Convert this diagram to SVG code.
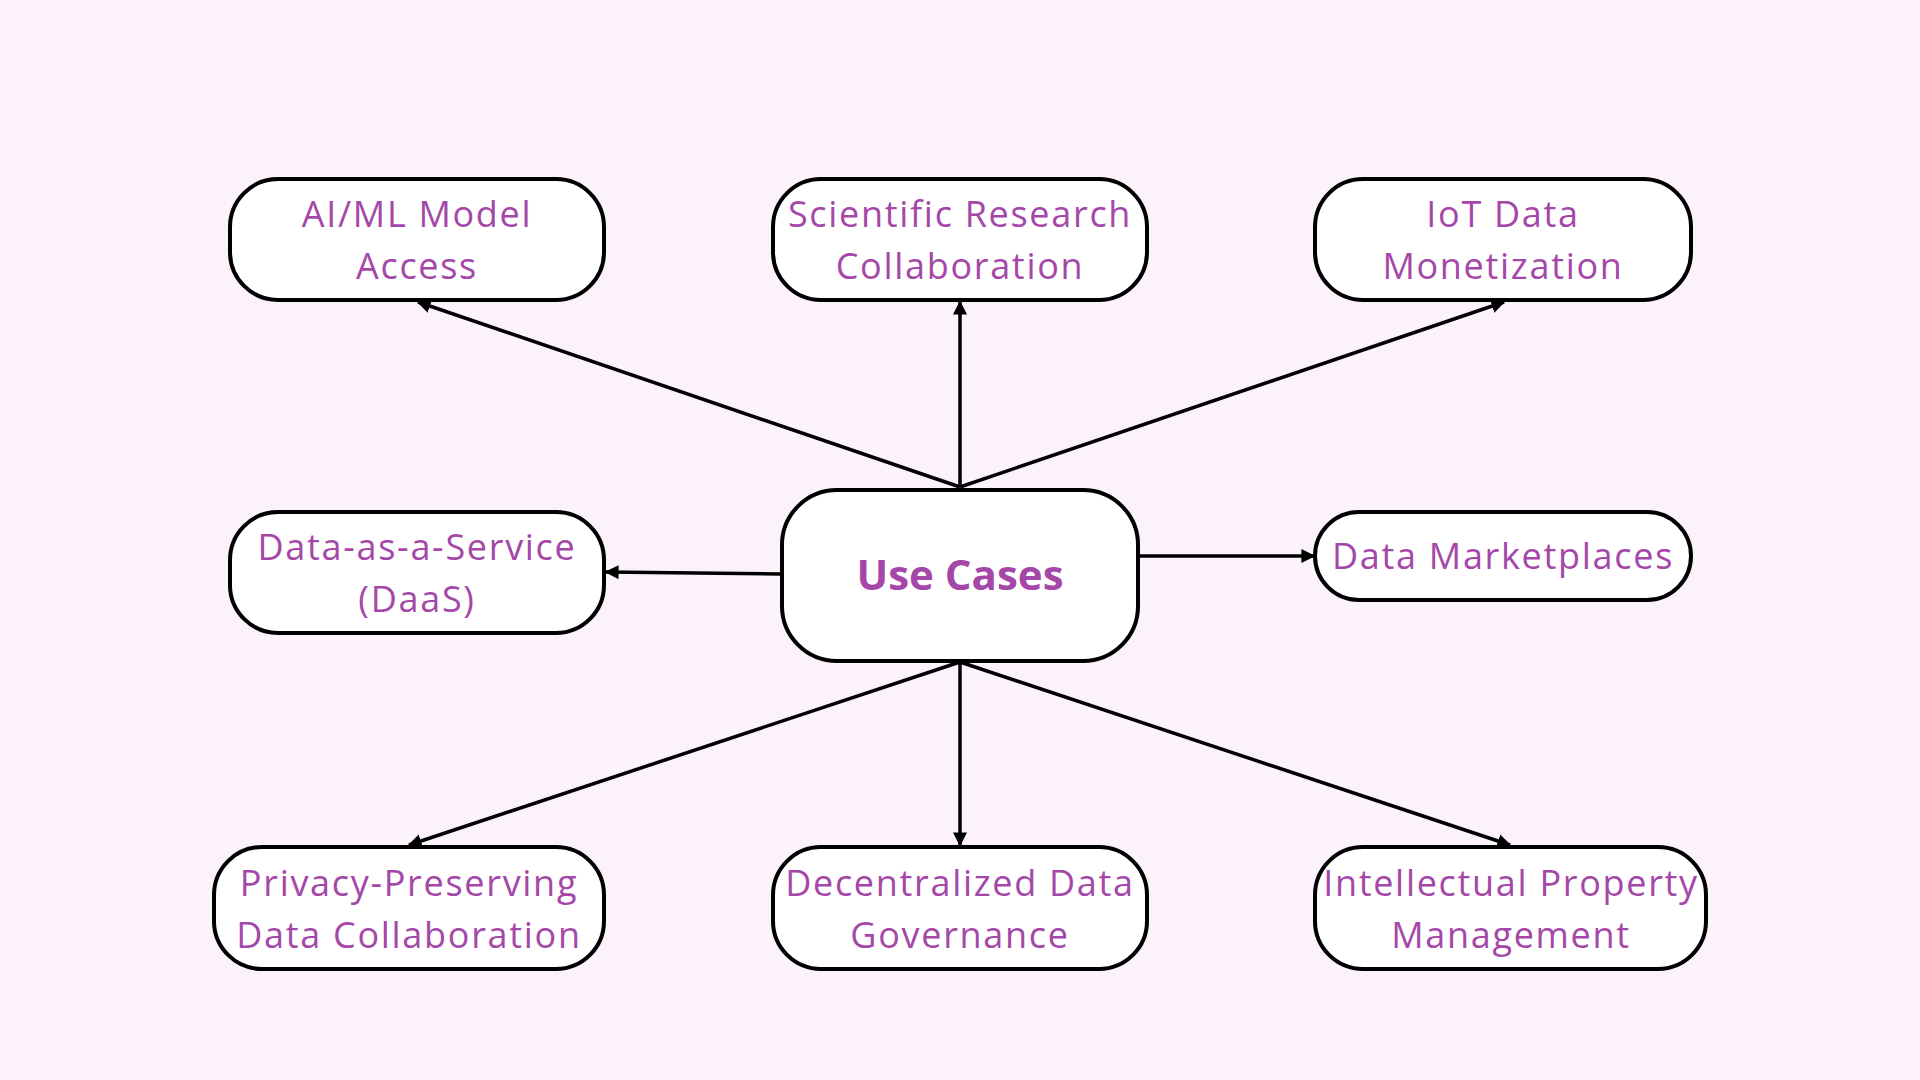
<svg xmlns="http://www.w3.org/2000/svg" width="1920" height="1080" viewBox="0 0 1920 1080">
<defs>
<style>
.box{fill:#ffffff;stroke:#000000;stroke-width:4}
.t{font-family:"Open Sans","Noto Sans",sans-serif;font-size:36px;letter-spacing:1.7px;fill:#a547a8;text-anchor:middle}
.tb{font-family:"Open Sans","Noto Sans",sans-serif;font-size:42px;font-weight:bold;fill:#a547a8;text-anchor:middle}
.c{stroke:#000000;stroke-width:3.5;fill:none;marker-end:url(#ah)}
</style>
<marker id="ah" viewBox="0 0 10 10" refX="9" refY="5" markerWidth="4" markerHeight="4" orient="auto" markerUnits="strokeWidth">
<path d="M0,0 L10,5 L0,10 z" fill="#000000"/>
</marker>
</defs>
<rect width="1920" height="1080" fill="#fcf2fb"/>
<g id="connectors">
<line class="c" x1="960" y1="487" x2="418" y2="302"/>
<line class="c" x1="960" y1="487" x2="960" y2="302"/>
<line class="c" x1="960" y1="487" x2="1504" y2="302"/>
<line class="c" x1="780" y1="574" x2="606" y2="572"/>
<line class="c" x1="1138" y1="556" x2="1314" y2="556"/>
<line class="c" x1="960" y1="662" x2="409" y2="845"/>
<line class="c" x1="960" y1="662" x2="960" y2="845"/>
<line class="c" x1="960" y1="662" x2="1510" y2="845"/>
</g>
<g id="use-cases">
<rect class="box" x="782" y="490" width="356" height="171" rx="55"/>
<text class="tb" x="960" y="590">Use Cases</text>
</g>
<g id="ai-ml">
<rect class="box" x="230" y="179" width="374" height="121" rx="48"/>
<text class="t" x="417" y="227">AI/ML Model</text>
<text class="t" x="417" y="279">Access</text>
</g>
<g id="scientific">
<rect class="box" x="773" y="179" width="374" height="121" rx="48"/>
<text class="t" x="960" y="227">Scientific Research</text>
<text class="t" x="960" y="279">Collaboration</text>
</g>
<g id="iot">
<rect class="box" x="1315" y="179" width="376" height="121" rx="48"/>
<text class="t" x="1503" y="227">IoT Data</text>
<text class="t" x="1503" y="279">Monetization</text>
</g>
<g id="daas">
<rect class="box" x="230" y="512" width="374" height="121" rx="48"/>
<text class="t" x="417" y="560">Data-as-a-Service</text>
<text class="t" x="417" y="612">(DaaS)</text>
</g>
<g id="marketplaces">
<rect class="box" x="1315" y="512" width="376" height="88" rx="44"/>
<text class="t" x="1503" y="569">Data Marketplaces</text>
</g>
<g id="privacy">
<rect class="box" x="214" y="847" width="390" height="122" rx="48"/>
<text class="t" x="409" y="896">Privacy-Preserving</text>
<text class="t" x="409" y="948">Data Collaboration</text>
</g>
<g id="decentralized">
<rect class="box" x="773" y="847" width="374" height="122" rx="48"/>
<text class="t" x="960" y="896">Decentralized Data</text>
<text class="t" x="960" y="948">Governance</text>
</g>
<g id="ip">
<rect class="box" x="1315" y="847" width="391" height="122" rx="48"/>
<text class="t" x="1511" y="896">Intellectual Property</text>
<text class="t" x="1511" y="948">Management</text>
</g>
</svg>
